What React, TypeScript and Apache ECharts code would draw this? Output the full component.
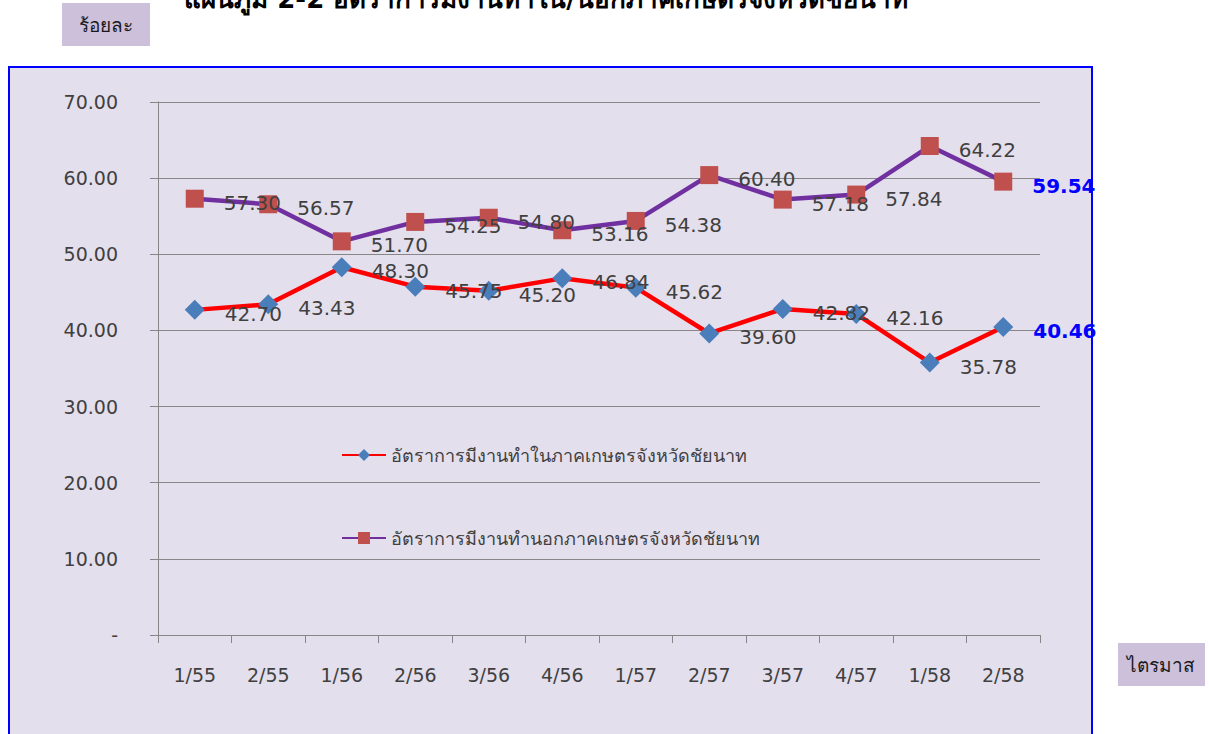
import React, { useEffect, useRef } from "react";
import * as echarts from "echarts";

const categories = ["1/55", "2/55", "1/56", "2/56", "3/56", "4/56", "1/57", "2/57", "3/57", "4/57", "1/58", "2/58"];
const agriRate = [42.70, 43.43, 48.30, 45.75, 45.20, 46.84, 45.62, 39.60, 42.82, 42.16, 35.78, 40.46];
const nonAgriRate = [57.30, 56.57, 51.70, 54.25, 54.80, 53.16, 54.38, 60.40, 57.18, 57.84, 64.22, 59.54];
const seriesNames = [
  "อัตราการมีงานทำในภาคเกษตรจังหวัดชัยนาท",
  "อัตราการมีงานทำนอกภาคเกษตรจังหวัดชัยนาท",
];
const titleText = "แผนภูมิ 2-2 อัตราการมีงานทำใน/นอกภาคเกษตรจังหวัดชัยนาท";
const yUnit = "ร้อยละ";
const xUnit = "ไตรมาส";

const FONT = "'DejaVu Sans', 'Noto Sans', sans-serif";

function buildData(values: number[]) {
  return values.map((v, i) =>
    i === values.length - 1
      ? { value: v, label: { color: "#0000FF", fontWeight: "bold" } }
      : v
  );
}

export default function App() {
  const ref = useRef<HTMLDivElement>(null);
  useEffect(() => {
    if (!ref.current) return;
    const chart = echarts.init(ref.current, null, { renderer: "svg" });
    const labelBase = {
      show: true,
      position: "right" as const,
      distance: 20,
      fontSize: 20,
      color: "#404040",
      fontFamily: FONT,
      formatter: (p: any) => Number(p.value).toFixed(2),
    };
    chart.setOption({
      animation: false,
      backgroundColor: "#FFFFFF",
      textStyle: { fontFamily: FONT },
      graphic: [
        {
          type: "rect",
          z: -10,
          silent: true,
          shape: { x: 9, y: 67, width: 1083, height: 700 },
          style: { fill: "#E4DFEC", stroke: "#0000FF", lineWidth: 2 },
        },
        {
          type: "text",
          x: 546,
          y: 12,
          style: {
            text: titleText,
            fontSize: 26,
            fontWeight: "bold",
            fill: "#000000",
            fontFamily: FONT,
            align: "center",
            verticalAlign: "bottom",
          },
        },
        {
          type: "rect",
          shape: { x: 62, y: 3, width: 88, height: 43 },
          style: { fill: "#CCC0DA" },
        },
        {
          type: "text",
          x: 106,
          y: 25,
          style: {
            text: yUnit,
            fontSize: 19,
            fill: "#1a1a1a",
            fontFamily: FONT,
            align: "center",
            verticalAlign: "middle",
          },
        },
        {
          type: "rect",
          shape: { x: 1118, y: 643, width: 87, height: 43 },
          style: { fill: "#CCC0DA" },
        },
        {
          type: "text",
          x: 1161,
          y: 665,
          style: {
            text: xUnit,
            fontSize: 19,
            fill: "#1a1a1a",
            fontFamily: FONT,
            align: "center",
            verticalAlign: "middle",
          },
        },
      ],
      legend: {
        orient: "vertical",
        left: 336,
        top: 441,
        itemGap: 65,
        itemWidth: 44,
        itemHeight: 15,
        textStyle: { fontSize: 18, color: "#404040", fontFamily: FONT },
        data: seriesNames,
      },
      grid: { left: 158, top: 102, width: 882, height: 533 },
      xAxis: {
        type: "category",
        data: categories,
        boundaryGap: true,
        axisLine: { lineStyle: { color: "#868686", width: 1 } },
        axisTick: { show: true, length: 8, inside: false, alignWithLabel: false, lineStyle: { color: "#868686" } },
        axisLabel: { fontSize: 19, color: "#404040", margin: 30, fontFamily: FONT },
      },
      yAxis: {
        type: "value",
        min: 0,
        max: 70,
        interval: 10,
        axisLine: { show: true, lineStyle: { color: "#868686", width: 1 } },
        axisTick: { show: true, length: 8, lineStyle: { color: "#868686" } },
        splitLine: { lineStyle: { color: "#878787", width: 1 } },
        axisLabel: {
          fontSize: 19,
          color: "#404040",
          margin: 40,
          fontFamily: FONT,
          formatter: (v: number) => (v === 0 ? "-" : v.toFixed(2)),
        },
      },
      series: [
        {
          name: seriesNames[0],
          type: "line",
          data: buildData(agriRate),
          symbol: "diamond",
          symbolSize: 20,
          itemStyle: { color: "#4A7EBB" },
          lineStyle: { color: "#FF0000", width: 4.5 },
          label: { ...labelBase, offset: [0, 4] },
          z: 3,
        },
        {
          name: seriesNames[1],
          type: "line",
          data: buildData(nonAgriRate),
          symbol: "rect",
          symbolSize: 18,
          itemStyle: { color: "#C0504D" },
          lineStyle: { color: "#7030A0", width: 4.5 },
          label: { ...labelBase, offset: [0, 4] },
          z: 3,
        },
      ],
    });
    return () => chart.dispose();
  }, []);
  return (
    <div
      ref={ref}
      style={{ position: "absolute", left: 0, top: 0, width: 1209, height: 734 }}
    />
  );
}
